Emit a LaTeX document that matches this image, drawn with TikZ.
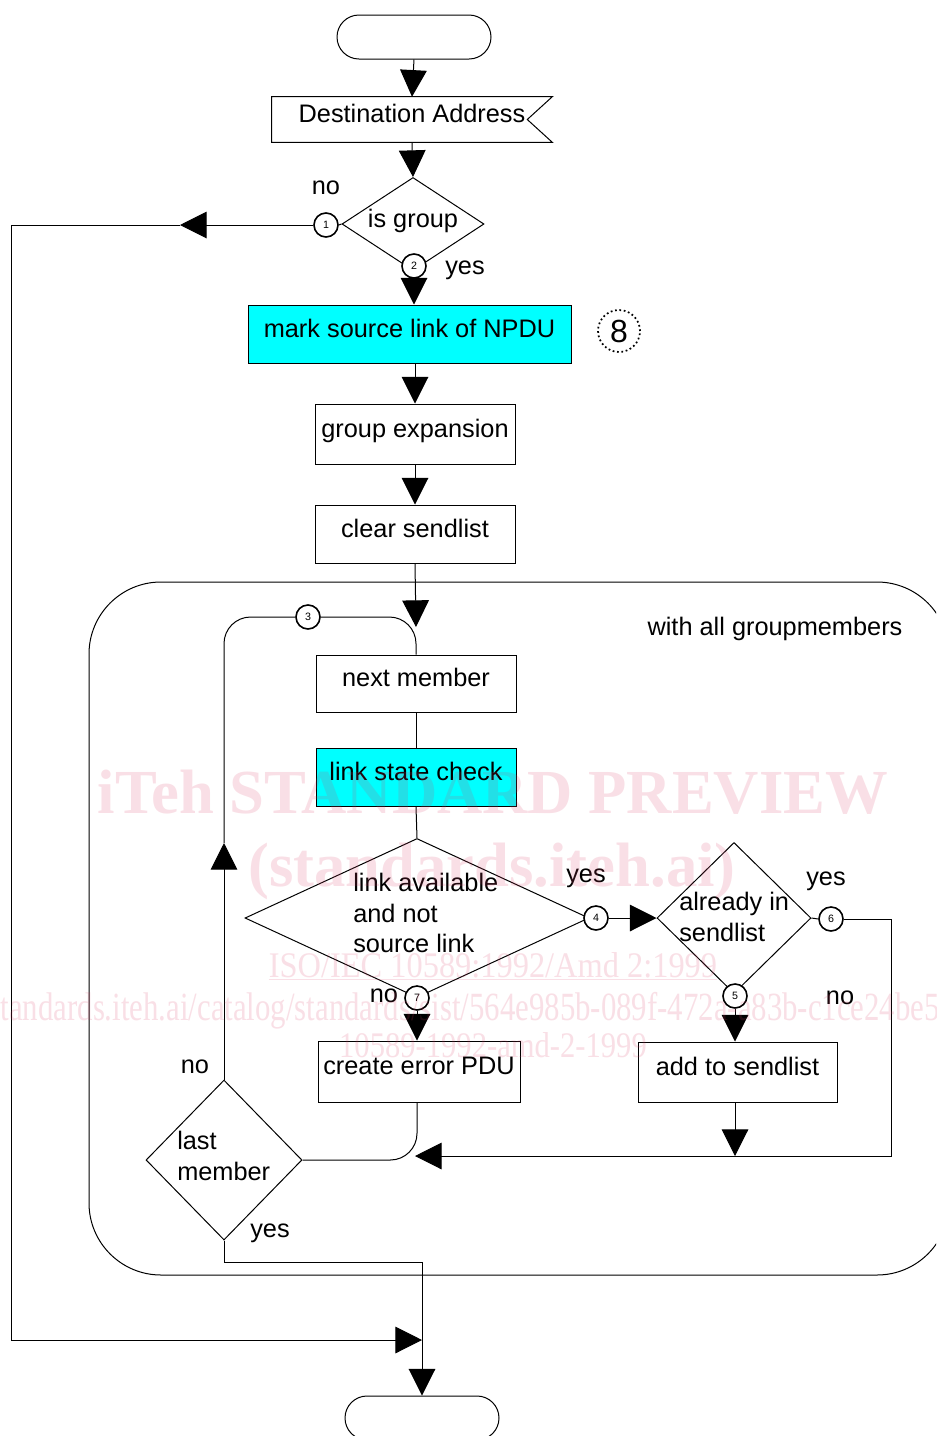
\documentclass[tikz,border=0pt]{standalone}
\usepackage{fontspec}
\setmainfont{Liberation Sans}
\newfontfamily\wmfont{Liberation Serif}
\usetikzlibrary{arrows.meta,shapes.geometric}
\definecolor{wmc}{RGB}{220,60,100}
\definecolor{boxcyan}{RGB}{0,255,255}
\tikzset{
  ln/.style={line width=0.75pt, draw=black},
  arr/.style={ln, -{Triangle[width=20pt,length=20pt]}},
  box/.style={draw, line width=0.75pt, rectangle, inner sep=0pt, text height=14pt, text depth=9.5pt},
  cbox/.style={box, fill=boxcyan},
  term/.style={draw, line width=0.75pt, rounded corners=16.5pt, minimum width=115.5pt, minimum height=33pt, inner sep=0pt},
  dia/.style={draw, line width=0.75pt, diamond, inner sep=0pt},
  num/.style={draw, circle, line width=1.2pt, minimum size=18pt, inner sep=0pt, fill=white, font=\fontsize{8}{9}\selectfont},
  lbl/.style={inner sep=0pt},
  wm/.style={inner sep=0pt, text=wmc, text opacity=0.16}
}
\begin{document}
\begin{tikzpicture}[x=0.75pt,y=-0.75pt,font=\fontsize{19}{23}\selectfont]
\useasboundingbox (0,0) rectangle (936,1436);
\clip (0,0) rectangle (936,1436);
\fill[white] (0,0) rectangle (936,1436);

% big loop frame
\draw[ln, rounded corners=54pt] (89,582) rectangle (949,1275);
\node[lbl] (wag) at (775,629) {with all groupmembers};

% top part
\node[term] (top) at (414,37) {};
\node[inner sep=0pt, minimum width=210pt, minimum height=33.75pt, text height=14pt, text depth=9.5pt] (dest) at (412,119.5) {Destination Address};
\draw[ln] (dest.north west) -- (dest.north east) -- ([xshift=-18.75pt]dest.east) -- (dest.south east) -- (dest.south west) -- cycle;
\draw[arr] (top.south) -- (dest.north);

\node[dia, minimum width=106.5pt, minimum height=69.75pt] (isg) at (413,224) {};
\node[lbl] (isgt) at (413,221) {is group};
\draw[arr] (dest.south) -- (isg.north);

\node[num] (c1) at (326,225) {1};
\node[num] (c2) at (414,266) {2};
\draw[ln] (isg.west) -- (c1.east);
\node[lbl] (no1) at (326,188) {no};
\node[lbl] (yes1) at (465,270) {yes};

\coordinate (lA) at (180,225);
\coordinate (jB) at (422,1340);
\draw[arr] (c1.west) -- (lA);
\draw[arr] (lA) -- (11,225) |- (jB);

\node[cbox, minimum width=242.25pt, minimum height=43.5pt] (mark) at (409.5,334) {mark source link of NPDU};
\draw[arr] (c2.south) -- (c2.south |- mark.north);
\node[circle, draw, dotted, line width=1.3pt, minimum size=31.5pt, inner sep=0pt, font=\fontsize{24}{26}\selectfont] (c8) at (619,331) {8};

\node[box, minimum width=150pt, minimum height=45pt] (gexp) at (415,434) {group expansion};
\draw[arr] (mark.south -| gexp.north) -- (gexp.north);
\node[box, minimum width=150pt, minimum height=43.5pt] (clear) at (415,534) {clear sendlist};
\draw[arr] (gexp.south) -- (clear.north);

% loop body
\node[box, minimum width=150pt, minimum height=42.75pt] (nm) at (416,683.5) {next member};
\coordinate (jT) at (416,627);
\draw[arr] (clear.south) -- (jT);
\node[cbox, minimum width=150pt, minimum height=43.5pt] (lsc) at (416,777) {link state check};
\draw[ln] (nm.south) -- (lsc.north);

\node[dia, minimum width=258pt, minimum height=119.25pt] (d1) at (417,918) {};
\node[lbl, align=left, anchor=west] (d1t) at (353,913) {link available\\and not\\source link};
\draw[ln] (lsc.south) -- (d1.north);
\node[num] (c4) at (596,918) {4};
\node[num] (c7) at (417,998) {7};
\node[lbl] (yes2) at (586,878) {yes};
\node[lbl] (no2) at (384,996) {no};

\node[dia, minimum width=115.5pt, minimum height=113.25pt] (d2) at (734,918) {};
\node[lbl, align=left, anchor=west] (d2t) at (679,917) {already in\\sendlist};
\draw[arr] (c4.east) -- (d2.west);
\node[num] (c6) at (831,919) {6};
\node[num] (c5) at (735,996) {5};
\draw[ln] (d2.east) -- (c6.west);
\node[lbl] (yes3) at (826,881) {yes};
\node[lbl] (no3) at (840,998) {no};

\node[box, minimum width=149.25pt, minimum height=45pt] (add) at (737.5,1072) {add to sendlist};
\draw[arr] (c5.south) -- (c5.south |- add.north);
\node[box, minimum width=151.5pt, minimum height=45.75pt] (err) at (419,1071.5) {create error PDU};
\draw[arr] (c7.south) -- (c7.south |- err.north);

\coordinate (jL) at (415,1156);
\draw[arr] (c6.east) -| (891,1156) -- (jL);
\draw[arr] (add.south -| c5.south) -- (c5.south |- jL);

\node[dia, minimum width=117pt, minimum height=120pt] (lm) at (224,1160) {};
\node[lbl, align=left, anchor=west] (lmt) at (177,1156) {last\\member};
\draw[ln, rounded corners=20pt] (err.south -| c7.south) |- (lm.east);
\node[lbl] (no4) at (195,1067) {no};
\node[lbl] (yes4) at (270,1233) {yes};

\node[num] (c3) at (308,617) {3};
\coordinate (upA) at (224,843);
\draw[arr] (lm.north) -- (upA);
\draw[ln, rounded corners=20pt] (upA) |- (c3.west);
\draw[ln, rounded corners=20pt] (c3.east) -| (nm.north);

\node[term] (bt) at (422,1418) {};
\draw[arr] (lm.south) -- (224,1262) -| (bt.north);

% watermark
\node[wm, anchor=base, font=\wmfont\bfseries\fontsize{47}{50}\selectfont] (wm1) at (493,813) {iTeh STANDARD PREVIEW};
\node[wm, anchor=base, font=\wmfont\bfseries\fontsize{47}{50}\selectfont] (wm2) at (492,886) {(standards.iteh.ai)};
\node[wm, anchor=base, font=\wmfont\fontsize{27}{30}\selectfont] (wm3) at (493,977) {\scalebox{0.9}[1]{\underline{ISO/IEC 10589:1992/Amd 2:1999}}};
\node[wm, anchor=base east, font=\wmfont\fontsize{30}{32}\selectfont] (wm4) at (940,1020) {\scalebox{0.77}[1]{https://standards.iteh.ai/catalog/standards/sist/564e985b-089f-472a-a83b-c1ce24be5}};
\node[wm, anchor=base, font=\wmfont\fontsize{27}{30}\selectfont] (wm5) at (493,1057) {\scalebox{0.85}[1]{10589-1992-amd-2-1999}};
\end{tikzpicture}
\end{document}
